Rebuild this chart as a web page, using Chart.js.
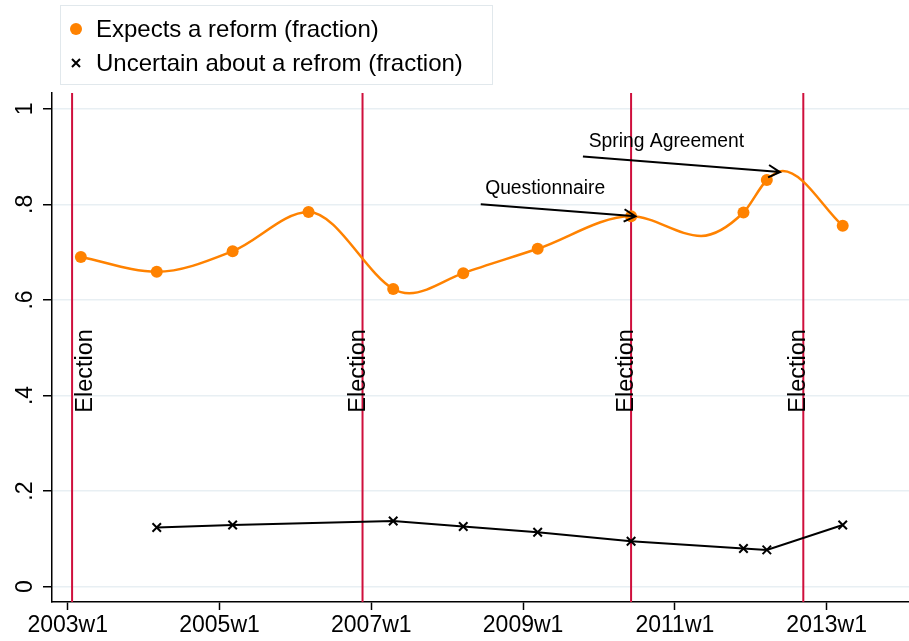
<!DOCTYPE html>
<html>
<head>
<meta charset="utf-8">
<title>Reform expectations</title>
<script src="https://cdn.jsdelivr.net/npm/chart.js@4.4.1/dist/chart.umd.min.js"></script>
<style>
    html, body { margin: 0; padding: 0; background: #fff; overflow: hidden; }
    canvas { display: block; }
</style>
</head>
<body>
<canvas id="chart" width="909" height="641"></canvas>
<script>
// Survey waves as Stata weekly dates
const surveyWeeks = ['2003w10', '2004w10', '2005w10', '2006w10', '2007w16', '2008w12', '2009w11', '2010w23', '2011w48', '2012w12', '2013w12'];
const expectsReform = [0.690, 0.659, 0.702, 0.784, 0.623, 0.656, 0.707, 0.775, 0.783, 0.851, 0.755];

// "Uncertain" was not asked in every wave
const uncertainWeeks = ['2004w10', '2005w10', '2007w16', '2008w12', '2009w11', '2010w23', '2011w48', '2012w12', '2013w12'];
const uncertainReform = [0.124, 0.129, 0.1375, 0.126, 0.114, 0.095, 0.080, 0.077, 0.129];

// Turning points of the smoothed orange curve
const curveWeeks = ['2007w27', '2011w19', '2012w23'];
const curveValues = [0.614, 0.734, 0.870];

const electionWeeks = ['2003w4', '2006w47', '2010w23', '2012w37'];

const xTickLabels = ['2003w1', '2005w1', '2007w1', '2009w1', '2011w1', '2013w1'];
const yTickValues = [0, 0.2, 0.4, 0.6, 0.8, 1];
const yTickLabels = ['0', '.2', '.4', '.6', '.8', '1'];

// Notes: label, text anchor, arrow start, arrow end
const noteLabels = ['Questionnaire', 'Spring Agreement'];
const noteTextAt = [['2008w27', 0.832], ['2009w46', 0.932]];
const noteArrowFrom = [['2008w24', 0.800], ['2009w42', 0.900]];
const noteArrowTo = [['2010w26', 0.775], ['2012w21', 0.8675]];

const legendLabels = ['Expects a reform (fraction)', 'Uncertain about a refrom (fraction)'];

const ORANGE = '#ff8200';
const CRIMSON = '#cf0f3c';
const FONT = "'Liberation Sans', Arial, Helvetica, sans-serif";

function weekToX(w) {
    const parts = w.split('w');
    return +parts[0] + (+parts[1] - 1) / 52;
}

const expectsPoints = surveyWeeks.map((w, i) => ({ x: weekToX(w), y: expectsReform[i] }));
const uncertainPoints = uncertainWeeks.map((w, i) => ({ x: weekToX(w), y: uncertainReform[i] }));
const curvePoints = expectsPoints
    .concat(curveWeeks.map((w, i) => ({ x: weekToX(w), y: curveValues[i] })))
    .sort((a, b) => a.x - b.x);

function drawArrow(ctx, x1, y1, x2, y2) {
    const ang = Math.atan2(y2 - y1, x2 - x1);
    const len = 13, spread = 0.5;
    ctx.beginPath();
    ctx.moveTo(x1, y1);
    ctx.lineTo(x2, y2);
    ctx.moveTo(x2 - len * Math.cos(ang - spread), y2 - len * Math.sin(ang - spread));
    ctx.lineTo(x2, y2);
    ctx.lineTo(x2 - len * Math.cos(ang + spread), y2 - len * Math.sin(ang + spread));
    ctx.stroke();
}

const decorPlugin = {
    id: 'decor',
    beforeDatasetsDraw(chart) {
        const ctx = chart.ctx, area = chart.chartArea;
        const xs = chart.scales.x;
        ctx.save();
        ctx.strokeStyle = CRIMSON;
        ctx.lineWidth = 2;
        electionWeeks.forEach(w => {
            const px = xs.getPixelForValue(weekToX(w));
            ctx.beginPath();
            ctx.moveTo(px, area.top);
            ctx.lineTo(px, area.bottom);
            ctx.stroke();
        });
        ctx.restore();
    },
    afterDatasetsDraw(chart) {
        const ctx = chart.ctx;
        const xs = chart.scales.x, ys = chart.scales.y;
        ctx.save();

        // Election labels, rotated, reading upwards
        ctx.fillStyle = '#000';
        ctx.font = '23.5px ' + FONT;
        ctx.textAlign = 'left';
        ctx.textBaseline = 'alphabetic';
        electionWeeks.forEach((w, i) => {
            const px = xs.getPixelForValue(weekToX(w));
            const bx = i === 0 ? px + 20 : px + 2;
            ctx.save();
            ctx.translate(bx, ys.getPixelForValue(0.364));
            ctx.rotate(-Math.PI / 2);
            ctx.fillText('Election', 0, 0);
            ctx.restore();
        });

        // Notes with arrows
        ctx.strokeStyle = '#000';
        ctx.lineWidth = 2;
        ctx.font = '19.3px ' + FONT;
        ctx.textBaseline = 'middle';
        noteLabels.forEach((label, i) => {
            ctx.fillText(label, xs.getPixelForValue(weekToX(noteTextAt[i][0])), ys.getPixelForValue(noteTextAt[i][1]));
            drawArrow(ctx,
                xs.getPixelForValue(weekToX(noteArrowFrom[i][0])), ys.getPixelForValue(noteArrowFrom[i][1]),
                xs.getPixelForValue(weekToX(noteArrowTo[i][0])), ys.getPixelForValue(noteArrowTo[i][1]));
        });
        ctx.restore();
    },
    afterDraw(chart) {
        const ctx = chart.ctx;
        const ys = chart.scales.y;
        ctx.save();

        // Rotated y tick labels
        ctx.fillStyle = '#000';
        ctx.font = '23px ' + FONT;
        ctx.textAlign = 'center';
        ctx.textBaseline = 'alphabetic';
        yTickValues.forEach((v, i) => {
            ctx.save();
            ctx.translate(32, ys.getPixelForValue(v));
            ctx.rotate(-Math.PI / 2);
            ctx.fillText(yTickLabels[i], 0, 0);
            ctx.restore();
        });

        // Legend box
        ctx.fillStyle = '#fff';
        ctx.fillRect(60.5, 5.5, 432, 79);
        ctx.strokeStyle = '#e1e8ec';
        ctx.lineWidth = 1;
        ctx.strokeRect(60.5, 5.5, 432, 79);

        ctx.fillStyle = ORANGE;
        ctx.beginPath();
        ctx.arc(76, 29, 6, 0, Math.PI * 2);
        ctx.fill();

        ctx.strokeStyle = '#000';
        ctx.lineWidth = 2;
        ctx.beginPath();
        ctx.moveTo(72, 59); ctx.lineTo(80, 67);
        ctx.moveTo(80, 59); ctx.lineTo(72, 67);
        ctx.stroke();

        ctx.fillStyle = '#000';
        ctx.font = '24px ' + FONT;
        ctx.textAlign = 'left';
        ctx.textBaseline = 'middle';
        ctx.fillText(legendLabels[0], 96, 30);
        ctx.fillText(legendLabels[1], 96, 64);
        ctx.restore();
    }
};

Chart.defaults.font.family = FONT;
Chart.defaults.color = '#000';

new Chart(document.getElementById('chart'), {
    type: 'line',
    data: {
        datasets: [
            {
                label: legendLabels[0],
                data: expectsPoints,
                showLine: false,
                pointRadius: 6,
                pointHoverRadius: 6,
                pointBackgroundColor: ORANGE,
                pointBorderWidth: 0,
                order: 0
            },
            {
                label: legendLabels[1],
                data: uncertainPoints,
                borderColor: '#000',
                borderWidth: 2,
                tension: 0,
                pointStyle: 'crossRot',
                pointRadius: 6,
                pointBorderColor: '#000',
                pointBorderWidth: 2,
                order: 1
            },
            {
                label: 'curve',
                data: curvePoints,
                borderColor: ORANGE,
                borderWidth: 2.5,
                cubicInterpolationMode: 'monotone',
                pointRadius: 0,
                order: 2
            }
        ]
    },
    options: {
        responsive: false,
        animation: false,
        events: [],
        layout: { autoPadding: false, padding: { top: 93, left: 0, right: 0, bottom: 0 } },
        plugins: {
            legend: { display: false },
            tooltip: { enabled: false }
        },
        scales: {
            x: {
                type: 'linear',
                min: 2002.793,
                max: 2014.085,
                afterBuildTicks: s => { s.ticks = xTickLabels.map(l => ({ value: weekToX(l) })); },
                afterFit: s => { s.height = 39; s.paddingLeft = 0; s.paddingRight = 0; },
                ticks: {
                    autoSkip: false,
                    maxRotation: 0,
                    padding: 2,
                    font: { size: 23 },
                    callback: (v, i) => xTickLabels[i]
                },
                grid: {
                    drawOnChartArea: false,
                    drawTicks: true,
                    tickLength: 8,
                    tickColor: '#000',
                    tickWidth: 1.5
                },
                border: { display: true, color: '#000', width: 1.5 }
            },
            y: {
                type: 'linear',
                min: -0.032,
                max: 1.033,
                afterBuildTicks: s => { s.ticks = yTickValues.map(v => ({ value: v })); },
                afterFit: s => { s.width = 52; },
                ticks: { display: false },
                grid: {
                    color: '#e8eff3',
                    lineWidth: 1.5,
                    drawTicks: true,
                    tickLength: 9,
                    tickColor: '#000',
                    tickWidth: 1.5
                },
                border: { display: true, color: '#000', width: 1.5 }
            }
        }
    },
    plugins: [decorPlugin]
});
</script>
</body>
</html>
